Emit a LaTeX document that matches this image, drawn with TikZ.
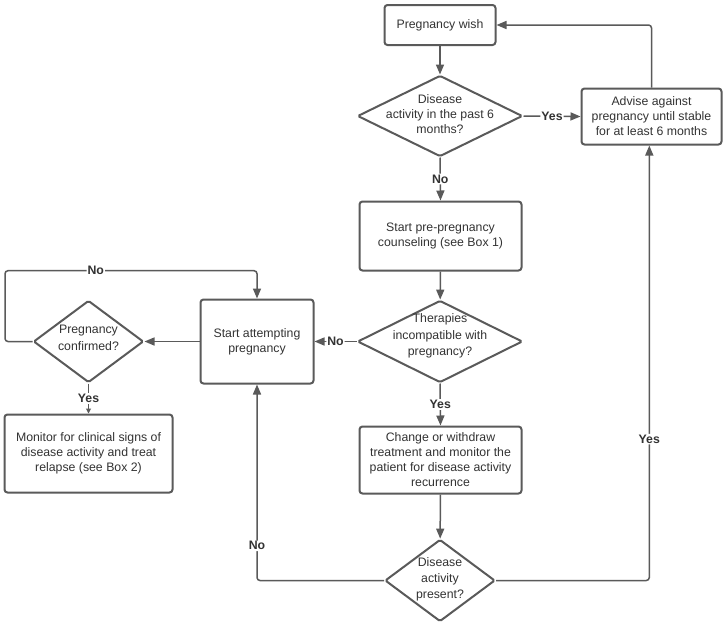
\documentclass[tikz,border=0pt]{standalone}
\usepackage{fontspec}
\setmainfont{Liberation Sans}
\usetikzlibrary{arrows.meta,shapes.geometric}
\definecolor{lc}{HTML}{5A5A5A}
\definecolor{tc}{HTML}{333333}
\begin{document}
\begin{tikzpicture}[x=1pt,y=-1pt,
 font=\fontsize{12.3}{15}\selectfont, text=tc,
 box/.style={draw=lc, line width=2pt, rounded corners=3pt, align=center, inner sep=0pt},
 diam/.style={draw=lc, line width=2pt, diamond, inner sep=0pt, rounded corners=1.5pt},
 dtext/.style={align=center, inner sep=0pt},
 conn/.style={draw=lc, line width=1.5pt, -{Triangle[length=10pt,width=8pt]}, rounded corners=3pt},
 lbl/.style={fill=white, font=\fontsize{12.3}{15}\selectfont\bfseries, inner sep=1pt}
]
\fill[white] (0,0) rectangle (726,627);
\useasboundingbox (0,0) rectangle (726,627);

% nodes
\node[box, minimum width=111pt, minimum height=40pt] (wish) at (440,25) {Pregnancy wish};
\node[diam, minimum width=165pt, minimum height=81pt] (d1) at (440,116) {};
\node[dtext] (d1t) at (440,114) {Disease\\activity in the past 6\\months?};
\node[box, minimum width=140pt, minimum height=56pt] (adv) at (651.5,116.5) {Advise against\\pregnancy until stable\\for at least 6 months};
\node[box, minimum width=162pt, minimum height=69pt] (couns) at (440.5,236) {Start pre-pregnancy\\counseling (see Box 1)};
\node[diam, minimum width=165pt, minimum height=82pt] (d2) at (440,341.5) {};
\node[dtext, font=\fontsize{12.3}{16.5}\selectfont] (d2t) at (440,336) {Therapies\\incompatible with\\pregnancy?};
\node[box, minimum width=162pt, minimum height=67pt] (chg) at (440.5,460) {Change or withdraw\\treatment and monitor the\\patient for disease activity\\recurrence};
\node[diam, minimum width=110pt, minimum height=82pt] (d3) at (440,580.5) {};
\node[dtext, font=\fontsize{12.3}{16}\selectfont] (d3t) at (440,579) {Disease\\activity\\present?};
\node[box, minimum width=113pt, minimum height=84pt] (start) at (257,341.5) {Start attempting\\pregnancy};
\node[diam, minimum width=110pt, minimum height=82pt] (d4) at (88.5,341.5) {};
\node[dtext, font=\fontsize{12.3}{17}\selectfont] (d4t) at (88.5,338) {Pregnancy\\confirmed?};
\node[box, minimum width=168pt, minimum height=78pt] (mon) at (88.5,453.5) {Monitor for clinical signs of\\disease activity and treat\\relapse (see Box 2)};

\coordinate (lp1) at (5,270.7);
\coordinate (rc) at (649.3,580.5);
\coordinate (lc3) at (257,580.5);

% connectors
\draw[conn] (wish) -- (d1);
\draw[conn] (d1.east) -- node[lbl]{Yes} (adv.west);
\draw[conn] (adv.north) |- (wish.east);
\draw[conn] (d1.south) -- node[lbl]{No} (couns.north);
\draw[conn] (couns) -- (d2);
\draw[conn] (d2.south) -- node[lbl]{Yes} (chg.north);
\draw[conn] (d2.west) -- node[lbl]{No} (start.east);
\draw[conn] (chg) -- (d3);
\draw[conn] (d3.east) -- (rc) -- node[lbl, pos=0.325]{Yes} (rc |- adv.south);
\draw[conn] (d3.west) -- (lc3) -- node[lbl, pos=0.177]{No} (start.south);
\draw[conn] (start.west) -- (d4.east);
\draw[conn] (d4.west) -| (lp1) -| node[lbl, pos=0.18]{No} (start.north);
\draw[draw=lc, line width=1pt, -{Triangle[length=5pt,width=5pt]}] (d4.south) -- node[lbl]{Yes} (mon.north);
\end{tikzpicture}
\end{document}
